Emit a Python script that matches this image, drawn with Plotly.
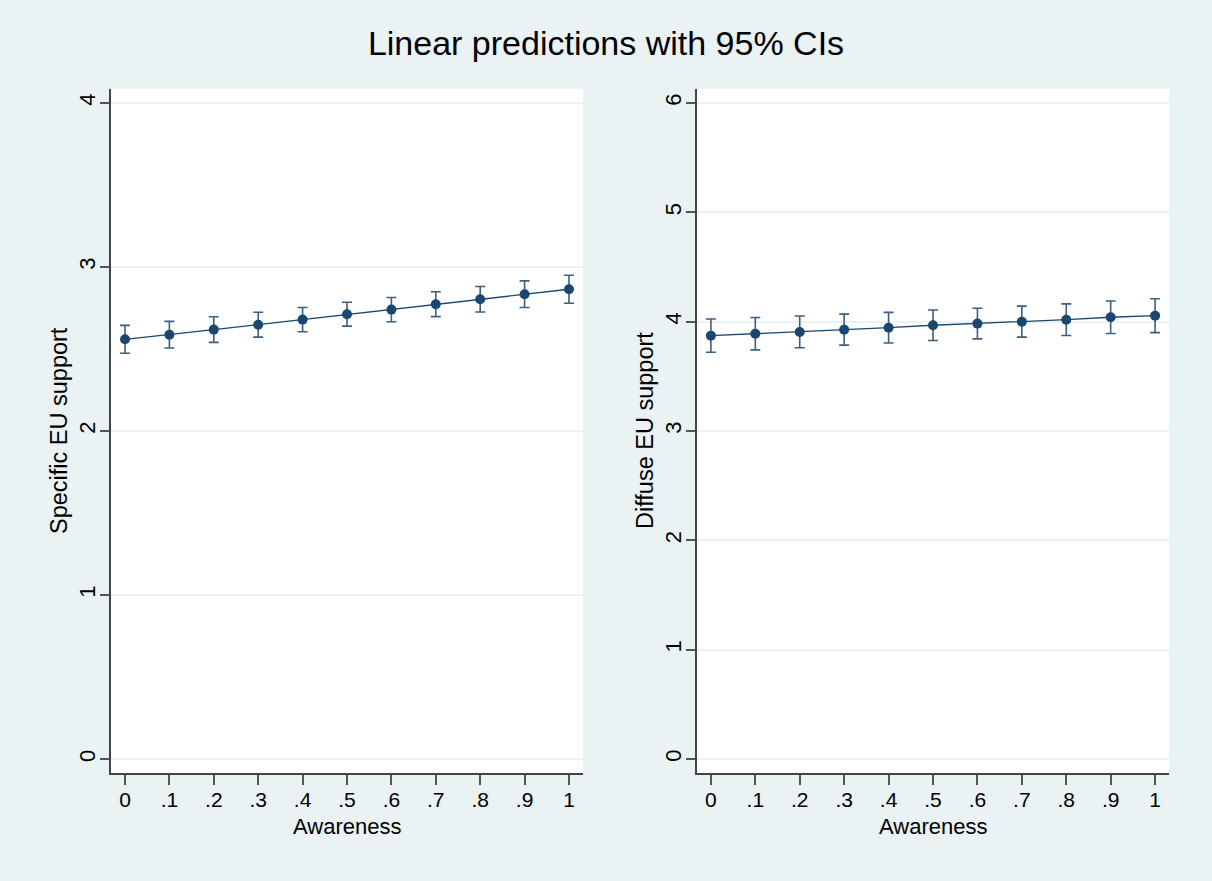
import plotly.graph_objects as go

awareness = [0, 0.1, 0.2, 0.3, 0.4, 0.5, 0.6, 0.7, 0.8, 0.9, 1.0]
x_tick_labels = ["0", ".1", ".2", ".3", ".4", ".5", ".6", ".7", ".8", ".9", "1"]

specific_pred = [2.559, 2.587, 2.618, 2.648, 2.679, 2.712, 2.740, 2.773, 2.803, 2.834, 2.864]
specific_lo = [2.474, 2.506, 2.540, 2.572, 2.605, 2.639, 2.666, 2.697, 2.725, 2.753, 2.779]
specific_hi = [2.644, 2.668, 2.696, 2.724, 2.753, 2.785, 2.814, 2.849, 2.881, 2.915, 2.949]

diffuse_pred = [3.872, 3.890, 3.906, 3.927, 3.945, 3.967, 3.982, 4.000, 4.018, 4.040, 4.055]
diffuse_lo = [3.720, 3.742, 3.761, 3.785, 3.805, 3.827, 3.842, 3.858, 3.873, 3.891, 3.900]
diffuse_hi = [4.024, 4.038, 4.051, 4.069, 4.085, 4.107, 4.122, 4.142, 4.163, 4.189, 4.210]

specific_ticks = [0, 1, 2, 3, 4]
diffuse_ticks = [0, 1, 2, 3, 4, 5, 6]

NAVY = "#1A476F"
BG = "#EAF2F3"
FONT = "Liberation Sans, Arial, sans-serif"
W, H = 1212, 881

fig = go.Figure()

def add_panel(pred, lo, hi, xa, ya):
    fig.add_trace(go.Scatter(
        x=awareness, y=pred, mode="lines+markers",
        xaxis=xa, yaxis=ya,
        line=dict(color=NAVY, width=1.3),
        marker=dict(color=NAVY, size=10),
        error_y=dict(type="data", symmetric=False,
                     array=[h - p for h, p in zip(hi, pred)],
                     arrayminus=[p - l for p, l in zip(pred, lo)],
                     color="#3d5f80", thickness=1.6, width=5),
        showlegend=False,
    ))

add_panel(specific_pred, specific_lo, specific_hi, "x", "y")
add_panel(diffuse_pred, diffuse_lo, diffuse_hi, "x2", "y2")

xcommon = dict(
    tickmode="array", tickvals=awareness, ticktext=x_tick_labels,
    showgrid=False, zeroline=False, showline=True, linecolor="#444", linewidth=1.5,
    ticks="outside", ticklen=10, tickwidth=1.5, tickcolor="#555",
    tickfont=dict(size=21, color="black", family=FONT),
    ticklabelstandoff=-3,
    range=[-0.0315, 1.0315],
)
ycommon = dict(
    showgrid=True, gridcolor=BG, gridwidth=1.5, zeroline=False,
    showline=True, linecolor="#444", linewidth=1.5,
    ticks="outside", ticklen=9, tickwidth=1.5, tickcolor="#555",
    tickangle=-90, ticklabelstandoff=-4,
    tickfont=dict(size=22, color="black", family=FONT),
)

dom_y = [0.1226, 0.899]
ymid = (dom_y[0] + dom_y[1]) / 2
xt_font = dict(size=22, color="black", family=FONT)
yt_font = dict(size=23.5, color="black", family=FONT)

fig.update_layout(
    width=W, height=H,
    paper_bgcolor=BG, plot_bgcolor="white",
    margin=dict(l=0, r=0, t=0, b=0),
    title=dict(text="Linear predictions with 95% CIs", x=0.5, xanchor="center",
               y=1 - 43 / H, yanchor="middle",
               font=dict(size=34, color="black", family=FONT)),
    xaxis=dict(**xcommon, domain=[0.0916, 0.481], anchor="y"),
    xaxis2=dict(**xcommon, domain=[0.575, 0.9646], anchor="y2"),
    yaxis=dict(**ycommon, tickvals=specific_ticks, range=[-0.085, 4.085],
               domain=dom_y, anchor="x"),
    yaxis2=dict(**ycommon, tickvals=diffuse_ticks, range=[-0.128, 6.128],
                domain=dom_y, anchor="x2"),
    annotations=[
        dict(text="Awareness", xref="paper", yref="paper", x=(0.0916 + 0.481) / 2, y=1 - 826 / H,
             xanchor="center", yanchor="middle", showarrow=False, font=xt_font),
        dict(text="Awareness", xref="paper", yref="paper", x=(0.575 + 0.9646) / 2, y=1 - 826 / H,
             xanchor="center", yanchor="middle", showarrow=False, font=xt_font),
        dict(text="Specific EU support", xref="paper", yref="paper", x=59 / W, y=ymid,
             xanchor="center", yanchor="middle", textangle=-90, showarrow=False, font=yt_font),
        dict(text="Diffuse EU support", xref="paper", yref="paper", x=645 / W, y=ymid,
             xanchor="center", yanchor="middle", textangle=-90, showarrow=False, font=yt_font),
    ],
)

fig.write_html("out.html", config={"displayModeBar": False},
               post_script="document.body.style.margin='0';document.body.style.overflow='hidden';")
